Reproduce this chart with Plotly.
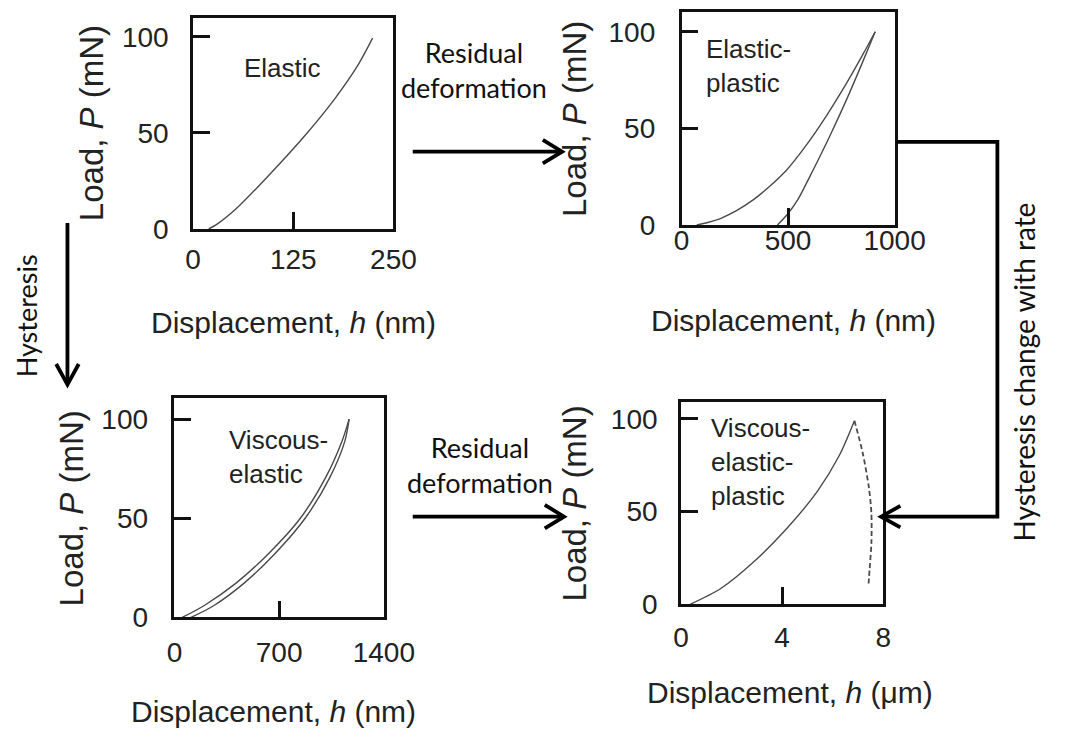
import plotly.graph_objects as go

W, H = 1073, 744

# ---------------- data ----------------
elastic_h = [19.6, 30, 53.7, 93.8, 141.8, 177.9, 205.9, 224]
elastic_p = [0, 2.5, 10.5, 27.6, 49.7, 68.4, 85.4, 99.3]

ep_load_h = [71, 185, 336, 489, 590, 680, 770, 850, 909]
ep_load_p = [0, 3.5, 13, 28, 42, 56.5, 72.5, 88, 100]
ep_unload_h = [909, 845, 775, 700, 620, 545, 500, 450]
ep_unload_p = [100, 83, 65, 47, 29, 13, 6, 0]

ve_load_h = [52, 197, 412, 627, 842, 1014, 1121, 1168]
ve_load_p = [0, 5.9, 17.3, 32, 50, 71, 89, 100]
ve_unload_h = [1168, 1140, 1042, 874, 670, 466, 262, 111]
ve_unload_p = [100, 89, 71, 50, 32, 17.3, 5.9, 0]

vep_load_h = [0.38, 1.59, 2.86, 4.13, 5.4, 6.27, 6.86]
vep_load_p = [0, 8.6, 22.6, 40, 61, 80.5, 99]
vep_unload_h = [6.86, 7.18, 7.43, 7.53, 7.53, 7.46, 7.41]
vep_unload_p = [99, 82, 63, 49, 33, 19, 9.5]

x_ticks_a = [0, 125, 250]
x_ticks_b = [0, 500, 1000]
x_ticks_c = [0, 700, 1400]
x_ticks_d = [0, 4, 8]
y_ticks = [0, 50, 100]

panel_labels = ["Elastic", "Elastic-<br>plastic", "Viscous-<br>elastic",
                "Viscous-<br>elastic-<br>plastic"]
x_titles = ["Displacement, <i>h</i> (nm)", "Displacement, <i>h</i> (nm)",
            "Displacement, <i>h</i> (nm)", "Displacement, <i>h</i> (\u03bcm)"]
y_title = "Load, <i>P</i> (mN)"
flow_residual = "Residual<br>deformation"
flow_hyst = "Hysteresis"
flow_rate = "Hysteresis change with rate"

# ---------------- helpers ----------------
def px(x):
    return x / W

def py(y):
    return 1 - y / H

AX_FONT = "Liberation Sans, Arial, sans-serif"
FLOW_FONT = "Lato, Open Sans, sans-serif"
CURVE = dict(color="#4a4a4a", width=1.4, shape="spline", smoothing=0.8)

fig = go.Figure()

fig.add_trace(go.Scatter(x=elastic_h, y=elastic_p, mode="lines", line=CURVE,
                         xaxis="x", yaxis="y", showlegend=False))
fig.add_trace(go.Scatter(x=ep_load_h, y=ep_load_p, mode="lines", line=CURVE,
                         xaxis="x2", yaxis="y2", showlegend=False))
fig.add_trace(go.Scatter(x=ep_unload_h, y=ep_unload_p, mode="lines", line=CURVE,
                         xaxis="x2", yaxis="y2", showlegend=False))
fig.add_trace(go.Scatter(x=ve_load_h, y=ve_load_p, mode="lines", line=CURVE,
                         xaxis="x3", yaxis="y3", showlegend=False))
fig.add_trace(go.Scatter(x=ve_unload_h, y=ve_unload_p, mode="lines", line=CURVE,
                         xaxis="x3", yaxis="y3", showlegend=False))
fig.add_trace(go.Scatter(x=vep_load_h, y=vep_load_p, mode="lines", line=CURVE,
                         xaxis="x4", yaxis="y4", showlegend=False))
fig.add_trace(go.Scatter(x=vep_unload_h, y=vep_unload_p, mode="lines",
                         line=dict(color="#4a4a4a", width=1.8, dash="5px,3px",
                                   shape="spline", smoothing=0.8),
                         xaxis="x4", yaxis="y4", showlegend=False))

frames = [
    (192, 400, 18, 234),
    (699, 920, 12.7, 230),
    (172.7, 390, 407, 631),
    (698.3, 908.3, 411, 617.5),
]
xranges = [[0, 250], [0, 1000], [0, 1400], [0, 8]]
yranges = [[0, 110], [0, 110], [0, 110.5], [0, 109]]
xticks = [x_ticks_a, x_ticks_b, x_ticks_c, x_ticks_d]
x_standoff = [4, -11, 8, 6]
y_standoff = [16, 18, 18, 15]

layout = dict(width=W, height=H, autosize=False,
              margin=dict(l=0, r=0, t=0, b=0, pad=0),
              paper_bgcolor="white", plot_bgcolor="white",
              showlegend=False)

for i, (l, r, t, b) in enumerate(frames):
    sx = "" if i == 0 else str(i + 1)
    common = dict(showline=True, linecolor="#111", linewidth=2.5, mirror=True,
                  showgrid=False, zeroline=False, ticks="inside", ticklen=17,
                  tickwidth=2.5, tickcolor="#111",
                  tickfont=dict(family=AX_FONT, size=28, color="#222"))
    layout["xaxis" + sx] = dict(domain=[px(l), px(r)], range=xranges[i],
                                tickvals=xticks[i], anchor="y" + sx,
                                ticklabelstandoff=x_standoff[i], **common)
    layout["yaxis" + sx] = dict(domain=[py(b), py(t)], range=yranges[i],
                                tickvals=y_ticks, anchor="x" + sx,
                                ticklabelstandoff=y_standoff[i], **common)

fig.update_layout(**layout)

ann = []
def text(x, y, s, size, font=AX_FONT, color="#222", angle=0, xanchor="center",
         align="center"):
    ann.append(dict(x=px(x), y=py(y), xref="paper", yref="paper", text=s,
                    showarrow=False, textangle=angle, xanchor=xanchor,
                    yanchor="middle", align=align,
                    font=dict(family=font, size=size, color=color)))

ytitle_pos = [(86, 126), (588, 122), (66, 520), (588, 515)]
xtitle_pos = [(296, 330), (815, 328), (275, 727), (812, 708)]
for i in range(4):
    text(*ytitle_pos[i], y_title, 33, angle=-90)
    text(*xtitle_pos[i], x_titles[i], 30)

text(285, 70, panel_labels[0], 26)
text(722, 67, panel_labels[1], 26, xanchor="left", align="left")
text(227, 467, panel_labels[2], 26, xanchor="left", align="left")
text(727, 472, panel_labels[3], 26, xanchor="left", align="left")

text(484, 72, flow_residual, 27, font=FLOW_FONT, color="#111")
text(490, 475, flow_residual, 27, font=FLOW_FONT, color="#111")
text(19, 323, flow_hyst, 27, font=FLOW_FONT, color="#111", angle=-90)
text(1054, 380, flow_rate, 28, font=FLOW_FONT, color="#111", angle=-90)

fig.update_layout(annotations=ann)

# arrows drawn as paper-space paths (shaft + open chevron head)
def path(points):
    d = "M " + " L ".join(f"{px(x):.5f} {py(y):.5f}" for x, y in points)
    fig.add_shape(type="path", xref="paper", yref="paper", path=d,
                  line=dict(color="#000", width=3.8))

def arrow_right(x0, x1, y):
    path([(x0, y), (x1 - 1, y)])
    path([(x1 - 20, y - 12), (x1, y), (x1 - 20, y + 12)])

arrow_right(420, 575, 155)
arrow_right(420, 577, 528)
# down arrow
path([(61.7, 228), (61.7, 392)])
path([(50, 372), (61.7, 393), (73.4, 372)])
# elbow with left-pointing head
path([(922, 145), (1026.7, 145), (1026.7, 528), (907, 528)])
path([(926, 517), (906, 528), (926, 539)])

fig.write_html("out.html")
